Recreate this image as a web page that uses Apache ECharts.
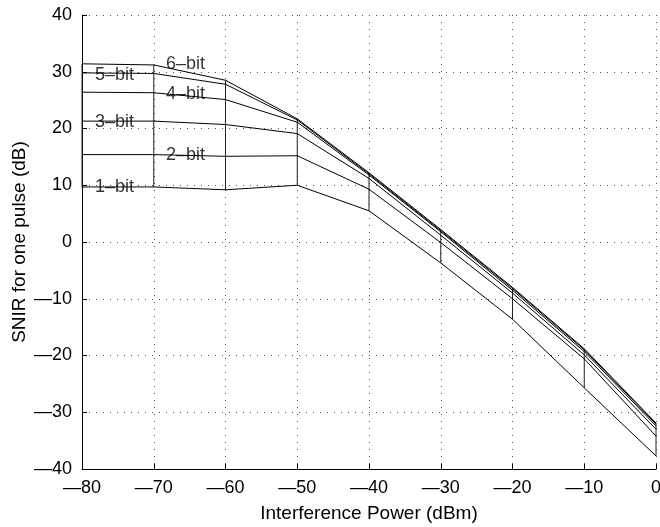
<!DOCTYPE html>
<html>
<head>
<meta charset="utf-8">
<script src="https://cdn.jsdelivr.net/npm/echarts@6/dist/echarts.min.js"></script>
<style>
html,body{margin:0;padding:0;background:#fff;}
#chart{width:660px;height:527px;}
</style>
</head>
<body>
<div id="chart"></div>
<script>
// ---- data ----
var xValues = [-80, -70, -60, -50, -40, -30, -20, -10, 0];
var bit6 = [31.4, 31.2, 28.5, 21.7, 12.2, 2.2, -8.0, -18.8, -31.9];
var bit5 = [29.8, 29.7, 27.8, 21.5, 12.0, 2.0, -8.2, -19.0, -32.1];
var bit4 = [26.4, 26.3, 25.1, 21.1, 11.8, 1.8, -8.5, -19.3, -32.4];
var bit3 = [21.3, 21.3, 20.7, 19.1, 11.2, 1.2, -9.0, -19.9, -33.0];
var bit2 = [15.4, 15.4, 15.1, 15.2, 9.3, -0.1, -10.0, -20.6, -34.2];
var bit1 = [9.7, 9.7, 9.2, 10.0, 5.5, -3.7, -13.6, -25.7, -37.7];
var labelNames = ['6\u2013bit', '5\u2013bit', '4\u2013bit', '3\u2013bit', '2\u2013bit', '1\u2013bit'];
var labelX = [-68.3, -78.2, -68.3, -78.2, -68.3, -78.2];
var labelY = [31.3, 29.5, 26.0, 21.2, 15.3, 9.6];
var xTicks = [-80, -70, -60, -50, -40, -30, -20, -10, 0];
var yTicks = [-40, -30, -20, -10, 0, 10, 20, 30, 40];

var allSeries = [bit6, bit5, bit4, bit3, bit2, bit1];
var fontFam = '"Liberation Sans", Arial, Helvetica, sans-serif';
function fmt(v){ return String(v).replace('-', '\u2014'); }

var series = [];
allSeries.forEach(function(s){
  series.push({
    type: 'line',
    data: xValues.map(function(x, i){ return [x, s[i]]; }),
    symbol: 'none',
    lineStyle: {color: '#000', width: 1},
    silent: true,
    z: 3
  });
});
// vertical connectors at each x
xValues.forEach(function(x, i){
  var vals = allSeries.map(function(s){ return s[i]; });
  series.push({
    type: 'line',
    data: [[x, Math.min.apply(null, vals)], [x, Math.max.apply(null, vals)]],
    symbol: 'none',
    lineStyle: {color: '#222', width: 1},
    silent: true,
    z: 2
  });
});
// text labels
series.push({
  type: 'scatter',
  symbolSize: 0,
  data: labelNames.map(function(n, i){ return {value: [labelX[i], labelY[i]], name: n}; }),
  label: {
    show: true,
    position: 'inside',
    align: 'left',
    verticalAlign: 'middle',
    formatter: function(p){ return p.name; },
    color: '#000',
    fontSize: 18,
    fontFamily: fontFam
  },
  silent: true,
  z: 5
});

var chart = echarts.init(document.getElementById('chart'), null, {renderer: 'canvas'});
chart.setOption({
  animation: false,
  backgroundColor: '#fff',
  grid: {left: 82, right: 4, top: 15, bottom: 58, containLabel: false, outerBoundsMode: 'none'},
  xAxis: {
    type: 'value', min: -80, max: 0, interval: 10,
    name: 'Interference Power (dBm)',
    nameLocation: 'middle', nameGap: 35, nameMoveOverlap: false,
    nameTextStyle: {color: '#000', fontSize: 19, fontFamily: fontFam},
    axisLine: {show: true, onZero: false, lineStyle: {color: '#000', width: 1}},
    axisTick: {show: true, inside: true, length: 5, lineStyle: {color: '#000'}},
    axisLabel: {color: '#000', fontSize: 18, fontFamily: fontFam, margin: 10,
      formatter: function(v){ return fmt(v); }},
    splitLine: {show: true, lineStyle: {color: '#555', width: 1, type: [1, 6]}}
  },
  yAxis: {
    type: 'value', min: -40, max: 40, interval: 10,
    name: 'SNIR for one pulse (dB)',
    nameLocation: 'middle', nameGap: 53, nameMoveOverlap: false,
    nameTextStyle: {color: '#000', fontSize: 19, fontFamily: fontFam},
    axisLine: {show: true, onZero: false, lineStyle: {color: '#000', width: 1}},
    axisTick: {show: true, inside: true, length: 5, lineStyle: {color: '#000'}},
    axisLabel: {color: '#000', fontSize: 18, fontFamily: fontFam, margin: 10,
      formatter: function(v){ return fmt(v); }},
    splitLine: {show: true, lineStyle: {color: '#555', width: 1, type: [1, 6]}}
  },
  series: series
});
</script>
</body>
</html>
